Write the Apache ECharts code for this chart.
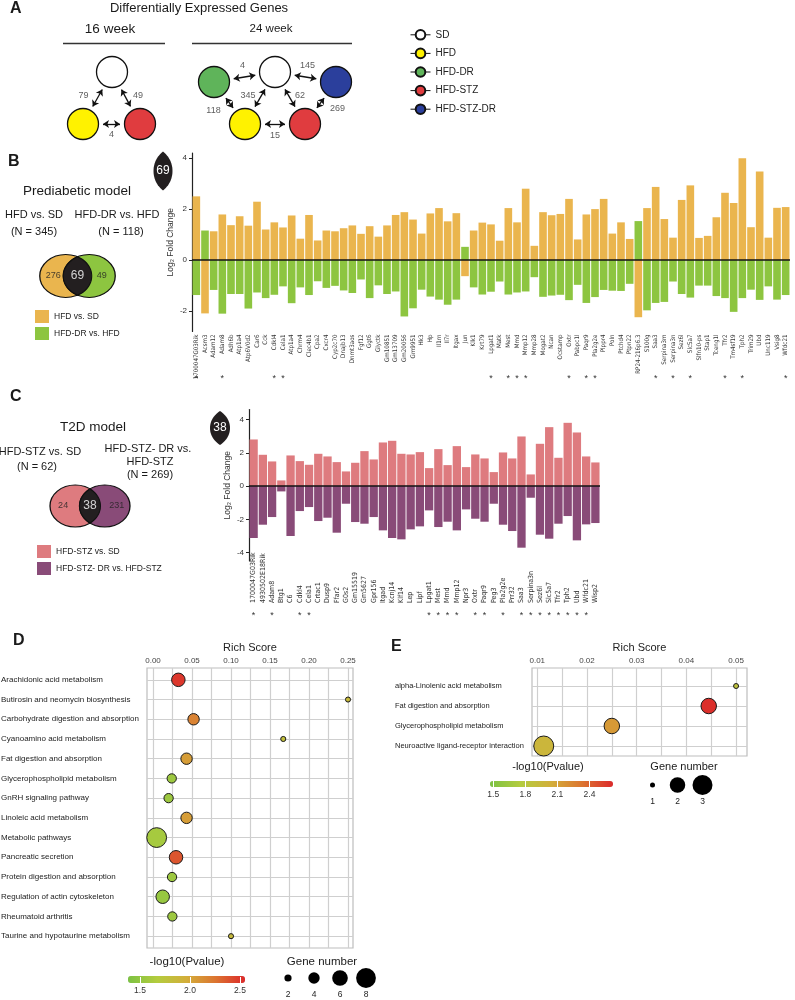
<!DOCTYPE html>
<html>
<head>
<meta charset="utf-8">
<script src="https://cdn.jsdelivr.net/npm/echarts@6/dist/echarts.min.js"></script>
<style>
html, body { margin: 0; padding: 0; background: #fff; }
#main { width: 795px; height: 1000px; }
</style>
</head>
<body>
<div id="main"></div>
<script>
const FONT = "'Liberation Sans', Arial, sans-serif";
const NARROW = "'Liberation Sans Narrow', 'DejaVu Sans Condensed', 'Liberation Sans', Arial, sans-serif";

// ---- A: numbers of differentially expressed genes ----
const groupNames = ['SD', 'HFD', 'HFD-DR', 'HFD-STZ', 'HFD-STZ-DR'];
const groupColors = ['#ffffff', '#fff200', '#5fb45a', '#e03c3f', '#2b3f9c'];
// node layout of the two diagrams (first 3 = 16 week, rest = 24 week)
const nodeGroup = ['SD', 'HFD', 'HFD-STZ', 'SD', 'HFD-DR', 'HFD-STZ-DR', 'HFD', 'HFD-STZ'];
const nodeX = [112, 83, 140, 275, 214, 336, 245, 305];
const nodeY = [72, 124, 124, 72, 82, 82, 124, 124];
const edgeFrom = [0, 0, 1, 4, 3, 3, 3, 4, 5, 6];
const edgeTo = [1, 2, 2, 3, 5, 6, 7, 6, 7, 7];
const edgeDeg = [79, 49, 4, 4, 145, 345, 62, 118, 269, 15];
const edgeLabelShift = [[-14, -2], [12, -2], [0, 11], [-2, -11], [2, -11], [-12, -2], [10, -2], [-16, 8], [17, 6], [0, 12]];

// ---- B: prediabetic model ----
const genesB = ['1700047G03Rik', 'Acsm3', 'Adam12', 'Adam8', 'Adh6b', 'Atp1a4', 'Atp6V0d2', 'Car6', 'Cck', 'Cdkl4',
  'Cela1', 'Atp1a4', 'Chrm4', 'Clec4b1', 'Cpa2', 'Cxcr4', 'Cyp2c70', 'Dnajb13', 'Dnmt3aos', 'Fgf12',
  'Ggt6', 'Glyctk', 'Gm10851', 'Gm13709', 'Gm20056', 'Gm9951', 'Hk3', 'Hp', 'Il1rn', 'Il7r',
  'Itgax', 'Jun', 'Klk1', 'Krt79', 'Lpgat1', 'Matk', 'Mest', 'Mmd', 'Mmp12', 'Mmp28',
  'Mogat2', 'Ncan', 'Ocstamp', 'Oxtr', 'Pabpc1l', 'Paqr9', 'Pla2g2e', 'Plppr4', 'Poln', 'Ptchd4',
  'Ptpn22', 'RP24-216p6.3', 'S100g', 'Saa3', 'Serpina3m', 'Serpina3n', 'Sez6l', 'Slc5a7', 'Slfn10-ps', 'Stap1',
  'Tceng1l', 'Tfr2', 'Tm4sf19', 'Tph2', 'Trim29', 'Ubd', 'Unc119', 'Vsig8', 'Wfdc21'];
const starredB = ['1700047G03Rik', 'Adam8', 'Cdkl4', 'Cela1', 'Lpgat1', 'Mest', 'Mmd', 'Mmp12', 'Oxtr', 'Paqr9',
  'Pla2g2e', 'Saa3', 'Serpina3n', 'Slc5a7', 'Tfr2', 'Tph2', 'Wfdc21'];
const hfdVsSd = [2.5, -2.09, 1.13, 1.79, 1.37, 1.72, 1.35, 2.29, 1.2, 1.48,
  1.28, 1.75, 0.84, 1.77, 0.77, 1.16, 1.13, 1.25, 1.36, 1.03,
  1.33, 0.92, 1.36, 1.77, 1.88, 1.59, 1.04, 1.83, 2.04, 1.52,
  1.84, -0.63, 1.16, 1.47, 1.4, 0.76, 2.04, 1.48, 2.8, 0.56,
  1.88, 1.76, 1.81, 2.4, 0.81, 1.79, 2.0, 2.4, 1.04, 1.48,
  0.83, -2.24, 2.04, 2.87, 1.61, 0.88, 2.36, 2.93, 0.87, 0.95,
  1.68, 2.64, 2.24, 3.99, 1.29, 3.47, 0.88, 2.05, 2.08];
const drVsHfd = [-1.37, 1.16, -1.17, -2.1, -1.33, -1.33, -1.9, -1.27, -1.49, -1.36,
  -1.03, -1.69, -1.07, -1.37, -0.83, -1.09, -1.01, -1.19, -1.29, -0.76,
  -1.49, -0.99, -1.33, -1.23, -2.21, -1.89, -1.16, -1.43, -1.55, -1.75,
  -1.55, 0.52, -1.07, -1.35, -1.24, -0.84, -1.35, -1.27, -1.23, -0.67,
  -1.44, -1.39, -1.36, -1.57, -0.97, -1.68, -1.45, -1.17, -1.2, -1.21,
  -0.93, 1.53, -1.97, -1.68, -1.64, -0.84, -1.33, -1.47, -1.0, -1.0,
  -1.41, -1.49, -2.03, -1.49, -1.16, -1.56, -1.03, -1.55, -1.37];
const vennB = [276, 69, 49];
const ticksB = [-2, 0, 2, 4];

// ---- C: T2D model ----
const genesC = ['1700047G03Rik', '4930502E18Rik', 'Adam8', 'Btg1', 'C6', 'Cdkl4', 'Cela1', 'Crtac1', 'Dusp9', 'Ffar2',
  'G0s2', 'Gm15519', 'Gm5627', 'Gpr156', 'Itgad', 'Kcnj14', 'Klf14', 'Lep', 'Lipf', 'Lpgat1',
  'Mest', 'Mmd', 'Mmp12', 'Npr3', 'Oxtr', 'Paqr9', 'Peg3', 'Pla2g2e', 'Prr32', 'Saa3',
  'Serpina3n', 'Sez6l', 'Slc5a7', 'Tfr2', 'Tph2', 'Ubd', 'Wfdc21', 'Wisp2'];
const starredC = ['1700047G03Rik', 'Adam8', 'Cdkl4', 'Cela1', 'Lpgat1', 'Mest', 'Mmd', 'Mmp12', 'Oxtr', 'Paqr9',
  'Pla2g2e', 'Saa3', 'Serpina3n', 'Sez6l', 'Slc5a7', 'Tfr2', 'Tph2', 'Ubd', 'Wfdc21'];
const stzVsSd = [2.8, 1.88, 1.48, 0.34, 1.84, 1.5, 1.28, 1.94, 1.78, 1.44,
  0.88, 1.4, 2.1, 1.6, 2.62, 2.72, 1.94, 1.9, 2.04, 1.08,
  2.22, 1.26, 2.4, 1.14, 1.9, 1.66, 0.84, 2.02, 1.66, 2.98,
  0.7, 2.54, 3.54, 1.7, 3.8, 3.22, 1.78, 1.42];
const drVsStz = [-3.12, -2.32, -1.86, -0.32, -3.0, -1.5, -1.26, -2.1, -1.9, -2.8,
  -1.06, -2.16, -2.26, -1.86, -2.66, -3.12, -3.2, -2.6, -2.42, -1.46,
  -2.46, -2.14, -2.66, -1.4, -1.96, -2.14, -1.06, -2.32, -2.7, -3.7,
  -0.7, -2.92, -3.16, -2.26, -1.8, -3.26, -2.3, -2.22];
const vennC = [24, 38, 231];
const ticksC = [-4, -2, 0, 2, 4];

// ---- D: KEGG enrichment, prediabetic ----
const pathwaysD = ['Arachidonic acid metabolism', 'Butirosin and neomycin biosynthesis', 'Carbohydrate digestion and absorption',
  'Cyanoamino acid metabolism', 'Fat digestion and absorption', 'Glycerophospholipid metabolism', 'GnRH signaling pathway',
  'Linoleic acid metabolism', 'Metabolic pathways', 'Pancreatic secretion', 'Protein digestion and absorption',
  'Regulation of actin cytoskeleton', 'Rheumatoid arthritis', 'Taurine and hypotaurine metabolism'];
const richD = [0.0325, 0.25, 0.052, 0.167, 0.043, 0.024, 0.02, 0.043, 0.0047, 0.0295, 0.0244, 0.0124, 0.0248, 0.1];
const logpD = [2.5, 1.85, 2.18, 1.8, 2.05, 1.55, 1.55, 2.05, 1.6, 2.38, 1.55, 1.52, 1.55, 1.85];
const genesNumD = [5, 1, 4, 1, 4, 3, 3, 4, 8, 5, 3, 5, 3, 1];
const sizeKeysD = [2, 4, 6, 8];
const richTicksD = [0, 0.05, 0.1, 0.15, 0.2, 0.25];
const richGridD = [0, 0.025, 0.05, 0.075, 0.1, 0.125, 0.15, 0.175, 0.2, 0.225, 0.25];
const colorTicksD = [1.5, 2.0, 2.5];

// ---- E: KEGG enrichment, T2D ----
const pathwaysE = ['alpha-Linolenic acid metabolism', 'Fat digestion and absorption', 'Glycerophospholipid metabolism',
  'Neuroactive ligand-receptor interaction'];
const richE = [0.05, 0.0445, 0.025, 0.0113];
const logpE = [1.85, 2.6, 2.15, 1.97];
const genesNumE = [1, 2, 2, 3];
const sizeKeysE = [1, 2, 3];
const richTicksE = [0.01, 0.02, 0.03, 0.04, 0.05];
const richGridE = [0.01, 0.015, 0.02, 0.025, 0.03, 0.035, 0.04, 0.045, 0.05];
const colorTicksE = [1.5, 1.8, 2.1, 2.4];

const ramp = ['#7cc243', '#b4cc3e', '#d3ae3a', '#dc7430', '#dc2a2b'];
const sizeD = n => 3 + 2.1 * n;
const sizeE = n => [0, 5, 15.5, 20][n];

// vesica (lens) shape of two overlapping unit circles centred at -a and +a
function lensPath(a) {
  const t0 = Math.acos(a), n = 24, pts = [];
  for (let i = 0; i <= n; i++) { const t = -t0 + 2 * t0 * i / n; pts.push([-a + Math.cos(t), Math.sin(t)]); }
  for (let i = 0; i <= n; i++) { const t = t0 - 2 * t0 * i / n; pts.push([a - Math.cos(t), Math.sin(t)]); }
  return 'path://M' + pts.map(p => (p[0] * 100).toFixed(2) + ' ' + (p[1] * 100).toFixed(2)).join(' L') + ' Z';
}

function venn(cxL, cxR, cy, w, h, colL, colR, counts) {
  const a = (cxR - cxL) / w;
  const s = Math.sqrt(1 - a * a);
  const mid = (cxL + cxR) / 2;
  const shapes = [
    { value: [cxL, cy], symbol: 'circle', symbolSize: [w, h], itemStyle: { color: colL } },
    { value: [cxR, cy], symbol: 'circle', symbolSize: [w, h], itemStyle: { color: colR } },
    { value: [mid, cy], symbol: lensPath(a), symbolSize: [(1 - a) * w, s * h], itemStyle: { color: '#231f20' } }
  ];
  const labels = [
    { value: [cxL - w * 0.24, cy, counts[0]], label: { color: '#222', fontSize: 9 } },
    { value: [mid, cy, counts[1]], label: { color: '#fff', fontSize: 12 } },
    { value: [cxR + w * 0.24, cy, counts[2]], label: { color: '#222', fontSize: 9 } }
  ];
  return [shapes, labels];
}

const chart = echarts.init(document.getElementById('main'));

// ---------- titles ----------
function T(text, x, y, size, align, bold) {
  return {
    text, left: x, top: y, padding: 0, textAlign: align || 'center', textVerticalAlign: 'middle',
    textStyle: { fontSize: size, fontWeight: bold ? 'bold' : 'normal', color: '#1a1a1a', fontFamily: FONT }
  };
}
const titles = [
  T('A', 10, 9, 16, 'left', true),
  T('Differentially Expressed Genes', 199, 8, 13),
  T('16 week', 110, 29, 13.5),
  T('24 week', 271, 29, 11.5),
  T('B', 8, 162, 16, 'left', true),
  T('Prediabetic model', 77, 191, 13.5),
  T('HFD vs. SD', 34, 215, 11),
  T('HFD-DR vs. HFD', 117, 215, 11),
  T('(N = 345)', 34, 232, 11),
  T('(N = 118)', 121, 232, 11),
  T('C', 10, 397, 16, 'left', true),
  T('T2D model', 93, 427, 13.5),
  T('HFD-STZ vs. SD', 40, 452, 11),
  T('(N = 62)', 37, 467, 11),
  T('HFD-STZ- DR vs.', 148, 449, 11),
  T('HFD-STZ', 150, 462, 11),
  T('(N = 269)', 150, 475, 11),
  T('D', 13, 641, 16, 'left', true),
  T('E', 391, 647, 16, 'left', true),
  T('-log10(Pvalue)', 187, 962, 11.5),
  T('Gene number', 322, 962, 11.5),
  T('-log10(Pvalue)', 548, 767, 11),
  T('Gene number', 684, 767, 11)
];

const series = [];

// ---------- A ----------
groupNames.forEach((g, gi) => {
  const pts = [];
  nodeGroup.forEach((ng, i) => {
    if (ng === g) { if (pts.length) pts.push(null); pts.push([nodeX[i], nodeY[i]]); }
  });
  series.push({
    type: 'line', name: g, xAxisIndex: 0, yAxisIndex: 0, data: pts, symbol: 'circle', symbolSize: 31,
    showSymbol: true, showAllSymbol: true, connectNulls: false, silent: true, z: 5,
    lineStyle: { color: '#111', width: 1 },
    itemStyle: { color: groupColors[gi], borderColor: '#111', borderWidth: 1.3, opacity: 1 }
  });
});
const R = 15.5, gapA = 4.5;
series.push({
  type: 'lines', coordinateSystem: 'cartesian2d', xAxisIndex: 0, yAxisIndex: 0, silent: true, z: 4,
  symbol: ['arrow', 'arrow'], symbolSize: 6,
  lineStyle: { color: '#111', width: 1.3, opacity: 1 },
  data: edgeFrom.map((a, k) => {
    const b = edgeTo[k];
    const dx = nodeX[b] - nodeX[a], dy = nodeY[b] - nodeY[a], L = Math.hypot(dx, dy);
    const ux = dx / L, uy = dy / L, d = R + gapA;
    return { coords: [[nodeX[a] + ux * d, nodeY[a] + uy * d], [nodeX[b] - ux * d, nodeY[b] - uy * d]] };
  })
});
series.push({
  type: 'lines', coordinateSystem: 'cartesian2d', xAxisIndex: 0, yAxisIndex: 0, silent: true,
  symbol: 'none', lineStyle: { color: '#333', width: 1.3, opacity: 1 },
  data: [{ coords: [[63, 43], [165, 43]] }, { coords: [[192, 43], [352, 43]] }]
});
series.push({
  type: 'scatter', xAxisIndex: 0, yAxisIndex: 0, silent: true, symbolSize: 1,
  itemStyle: { color: 'rgba(0,0,0,0)' },
  label: { show: true, position: 'inside', formatter: p => p.value[2], fontSize: 9, color: '#333' },
  data: edgeDeg.map((n, k) => {
    const a = edgeFrom[k], b = edgeTo[k];
    return [(nodeX[a] + nodeX[b]) / 2 + edgeLabelShift[k][0], (nodeY[a] + nodeY[b]) / 2 + edgeLabelShift[k][1], n];
  })
});

// ---------- Venns + leaves ----------
const orange = '#eab54e', green = '#8dc540', pink = '#de7b7f', purple = '#894b78';
const vB = venn(65.75, 89.25, 276, 52, 43, orange, green, vennB);
const vC = venn(75.25, 104.75, 506, 50.5, 42, pink, purple, vennC);
const leaves = [
  { value: [163, 171, vennB[1]], symbol: lensPath(0.6), symbolSize: [19, 39], itemStyle: { color: '#231f20' } },
  { value: [220, 428, vennC[1]], symbol: lensPath(0.6), symbolSize: [20, 34], itemStyle: { color: '#231f20' } }
];
series.push({
  type: 'scatter', xAxisIndex: 0, yAxisIndex: 0, silent: true, z: 3,
  itemStyle: { borderColor: '#111', borderWidth: 1.2, opacity: 1 },
  data: vB[0].concat(vC[0])
});
series.push({
  type: 'scatter', xAxisIndex: 0, yAxisIndex: 0, silent: true, z: 3,
  itemStyle: { opacity: 1 },
  label: { show: true, position: 'inside', formatter: p => p.value[2], color: '#fff', fontSize: 12 },
  data: leaves
});
series.push({
  type: 'scatter', xAxisIndex: 0, yAxisIndex: 0, silent: true, symbolSize: 1, z: 6,
  itemStyle: { color: 'rgba(0,0,0,0)' },
  label: { show: true, position: 'inside', formatter: p => p.value[2] },
  data: vB[1].concat(vC[1])
});

// ---------- B / C bars ----------
function zeroLine() {
  return { silent: true, symbol: 'none', label: { show: false }, data: [{ yAxis: 0 }],
    lineStyle: { color: '#111', width: 1.5, type: 'solid' } };
}
series.push({ type: 'bar', name: 'HFD vs. SD', xAxisIndex: 1, yAxisIndex: 1, data: hfdVsSd,
  barGap: '-100%', barCategoryGap: '12%', itemStyle: { color: orange } });
series.push({ type: 'bar', name: 'HFD-DR vs. HFD', xAxisIndex: 1, yAxisIndex: 1, data: drVsHfd,
  barGap: '-100%', barCategoryGap: '12%', itemStyle: { color: green }, markLine: zeroLine() });
series.push({ type: 'bar', name: 'HFD-STZ vs. SD', xAxisIndex: 3, yAxisIndex: 2, data: stzVsSd,
  barGap: '-100%', barCategoryGap: '10%', itemStyle: { color: pink } });
series.push({ type: 'bar', name: 'HFD-STZ- DR vs. HFD-STZ', xAxisIndex: 3, yAxisIndex: 2, data: drVsStz,
  barGap: '-100%', barCategoryGap: '10%', itemStyle: { color: purple }, markLine: zeroLine() });

// ---------- D / E bubbles ----------
const idxD = series.length;
series.push({
  type: 'scatter', xAxisIndex: 5, yAxisIndex: 3, z: 5,
  data: pathwaysD.map((p, i) => [richD[i], i + 1, logpD[i], genesNumD[i]]),
  symbolSize: v => sizeD(v[3]),
  itemStyle: { borderColor: '#1a1a1a', borderWidth: 1, opacity: 1 }
});
const idxE = series.length;
series.push({
  type: 'scatter', xAxisIndex: 6, yAxisIndex: 4, z: 5,
  data: pathwaysE.map((p, i) => [richE[i], i + 1, logpE[i], genesNumE[i]]),
  symbolSize: v => sizeE(v[3]),
  itemStyle: { borderColor: '#1a1a1a', borderWidth: 1, opacity: 1 }
});
series.push({
  type: 'scatter', xAxisIndex: 7, yAxisIndex: 5, silent: true, itemStyle: { color: '#000', opacity: 1 },
  data: sizeKeysD.map(n => [String(n), 0.5, n]), symbolSize: v => sizeD(v[2])
});
series.push({
  type: 'scatter', xAxisIndex: 8, yAxisIndex: 6, silent: true, itemStyle: { color: '#000', opacity: 1 },
  data: sizeKeysE.map(n => [String(n), 0.5, n]), symbolSize: v => sizeE(v[2])
});

// ---------- axes ----------
const hidden = { show: false };
function barNameAxis(grid, data, opt) {
  return Object.assign({
    gridIndex: grid, type: 'category', data, position: 'bottom',
    axisLine: hidden, axisTick: hidden, splitLine: hidden
  }, opt);
}
function valueY(grid, min, max, ticks, nameGap) {
  return {
    gridIndex: grid, type: 'value', min, max,
    axisLine: { show: true, lineStyle: { color: '#222', width: 1.2 } },
    axisTick: { show: true, length: 3, customValues: ticks, lineStyle: { color: '#222' } },
    axisLabel: { customValues: ticks, fontSize: 8, margin: 5, color: '#333', fontFamily: FONT },
    splitLine: hidden,
    name: 'Log\u2082 Fold Change', nameLocation: 'middle', nameGap, nameMoveOverlap: false,
    nameTextStyle: { fontSize: 8.5, color: '#333', fontFamily: FONT }
  };
}
function richX(grid, min, max, labels, lines) {
  return {
    gridIndex: grid, type: 'value', position: 'top', min, max,
    axisLine: hidden,
    axisTick: { show: false, customValues: lines },
    axisLabel: { customValues: labels, formatter: v => v.toFixed(2), fontSize: 8, margin: 3, color: '#444', fontFamily: FONT },
    splitLine: { show: true, lineStyle: { color: '#cfcfcf', width: 1.2 } },
    name: 'Rich Score', nameLocation: 'middle', nameGap: 15, nameMoveOverlap: false,
    nameTextStyle: { fontSize: 11, color: '#222', fontFamily: FONT }
  };
}
function pathY(grid, min, max, names, margin, fs) {
  const vals = names.map((n, i) => i + 1);
  return {
    gridIndex: grid, type: 'value', inverse: true, min, max,
    axisLine: hidden,
    axisTick: { show: false, customValues: vals },
    axisLabel: { customValues: vals, formatter: v => names[Math.round(v) - 1], align: 'left', margin,
      fontSize: fs, color: '#222', fontFamily: FONT },
    splitLine: { show: true, lineStyle: { color: '#cfcfcf', width: 1.2 } }
  };
}
function keyX(grid, data) {
  return {
    gridIndex: grid, type: 'category', data, axisLine: hidden, axisTick: hidden,
    axisLabel: { fontSize: 8.5, margin: 2, color: '#222', fontFamily: FONT }
  };
}
function barScaleX(grid, min, max, ticks) {
  return {
    gridIndex: grid, type: 'value', min, max, z: 10, axisLine: hidden, splitLine: hidden,
    axisTick: { show: true, inside: true, length: 6, customValues: ticks, lineStyle: { color: '#fff', width: 1 } },
    axisLabel: { customValues: ticks, formatter: v => v.toFixed(1), fontSize: 8.5, margin: 3, color: '#333', fontFamily: FONT }
  };
}
const hiddenY = (grid, min, max, inv) => ({ gridIndex: grid, type: 'value', min, max, inverse: !!inv, show: false });

const xAxis = [
  { gridIndex: 0, type: 'value', min: 0, max: 795, show: false },
  barNameAxis(1, genesB, { axisLabel: { interval: 0, rotate: 90, fontSize: 6.2, margin: 3, color: '#333', fontFamily: NARROW } }),
  barNameAxis(1, genesB, { axisLabel: { interval: 0, margin: 43, fontSize: 9, color: '#333',
    formatter: v => starredB.includes(v) ? '*' : '' } }),
  barNameAxis(2, genesC, { axisLabel: { interval: 0, rotate: 90, align: 'left', fontSize: 7, margin: 42, color: '#333', fontFamily: NARROW } }),
  barNameAxis(2, genesC, { axisLabel: { interval: 0, margin: 50, fontSize: 9, color: '#333',
    formatter: v => starredC.includes(v) ? '*' : '' } }),
  richX(3, -0.0077, 0.2564, richTicksD, richGridD),
  richX(4, 0.00894, 0.0522, richTicksE, richGridE),
  keyX(5, sizeKeysD.map(String)),
  keyX(6, sizeKeysE.map(String)),
  barScaleX(7, 1.38, 2.55, colorTicksD),
  barScaleX(8, 1.47, 2.62, colorTicksE)
];
const yAxis = [
  hiddenY(0, 0, 1000, true),
  valueY(1, -2.8, 4.2, ticksB, 17),
  valueY(2, -4.5, 4.6, ticksC, 17),
  pathY(3, 0.4, 14.6, pathwaysD, 146, 8),
  pathY(4, 0.1, 4.5, pathwaysE, 137, 7.5),
  hiddenY(5, 0, 1),
  hiddenY(6, 0, 1),
  hiddenY(7, 0, 1),
  hiddenY(8, 0, 1)
];
const G = (left, top, width, height, box) => Object.assign({ left, top, width, height, outerBoundsMode: 'none', containLabel: false },
  box ? { show: true, borderColor: '#bdbdbd', borderWidth: 1.2, backgroundColor: 'rgba(0,0,0,0)' } : {});
const grid = [
  G(0, 0, 795, 1000),
  G(192, 153, 598, 178.5),
  G(249, 409.5, 351, 151.5),
  G(147, 668, 206, 280, true),
  G(532, 668, 215, 88, true),
  G(275, 968, 104, 20),
  G(640, 775, 75, 20),
  G(128, 977, 117, 6),
  G(490, 782, 123, 5)
];

const legendText = { fontSize: 8.5, color: '#222', fontFamily: FONT };
const option = {
  animation: false,
  backgroundColor: '#fff',
  textStyle: { fontFamily: FONT },
  title: titles,
  grid, xAxis, yAxis,
  legend: [
    { data: groupNames, left: 410, top: 29, orient: 'vertical', padding: 0, itemWidth: 20, itemHeight: 12, itemGap: 7,
      selectedMode: false, textStyle: { fontSize: 10, color: '#222', fontFamily: FONT },
      lineStyle: { color: '#111', width: 1 } },
    { data: ['HFD vs. SD', 'HFD-DR vs. HFD'], left: 35, top: 310, orient: 'vertical', padding: 0, icon: 'rect',
      itemWidth: 14, itemHeight: 13, itemGap: 4, selectedMode: false, textStyle: legendText },
    { data: ['HFD-STZ vs. SD', 'HFD-STZ- DR vs. HFD-STZ'], left: 37, top: 545, orient: 'vertical', padding: 0, icon: 'rect',
      itemWidth: 14, itemHeight: 13, itemGap: 4, selectedMode: false, textStyle: legendText }
  ],
  visualMap: [
    { type: 'continuous', seriesIndex: idxD, dimension: 2, min: 1.38, max: 2.55, orient: 'horizontal',
      left: 128, top: 976, itemWidth: 7, itemHeight: 117, padding: 0, calculable: false, hoverLink: false,
      inRange: { color: ramp } },
    { type: 'continuous', seriesIndex: idxE, dimension: 2, min: 1.47, max: 2.62, orient: 'horizontal',
      left: 490, top: 781, itemWidth: 6, itemHeight: 123, padding: 0, calculable: false, hoverLink: false,
      inRange: { color: ramp } }
  ],
  series
};
chart.setOption(option);
</script>
</body>
</html>
